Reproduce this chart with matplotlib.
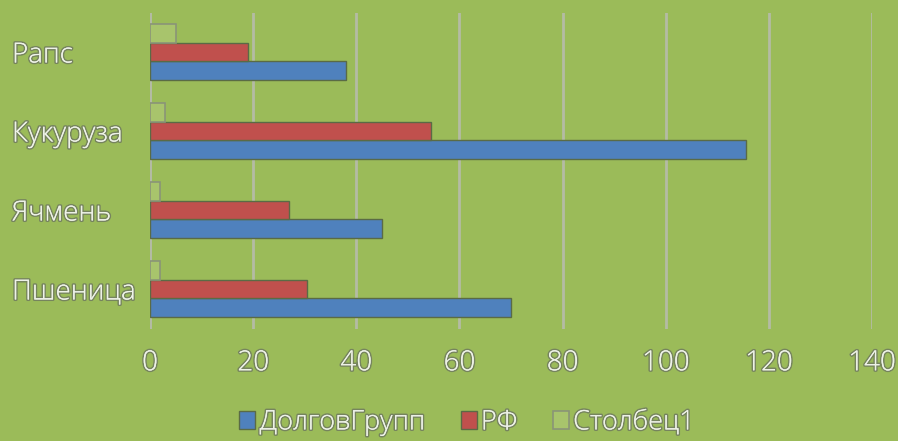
import numpy as np
import matplotlib.pyplot as plt
import matplotlib.patheffects as pe
import matplotlib.transforms as mtransforms

categories = ["Пшеница", "Ячмень", "Кукуруза", "Рапс"]
dolgov = [70, 45, 115.5, 38]
rf = [30.5, 27, 54.5, 19]
stolbec = [2, 2, 3, 5]
series_names = ["ДолговГрупп", "РФ", "Столбец1"]

bg = "#9BBB59"
txt = "#EEF2E8"
plt.rcParams["font.family"] = ["Open Sans", "DejaVu Sans"]
plt.rcParams["font.weight"] = "light"

fig = plt.figure(figsize=(8.98, 4.41), dpi=100, facecolor=bg)
ax = fig.add_axes([150 / 898, 1 - 328.5 / 441, 722 / 898, 316 / 441])
ax.set_facecolor(bg)

y = np.arange(len(categories))
h = 0.24
ax.barh(y - h, dolgov, h, color="#4F81BD", edgecolor="#5A6B45", linewidth=1, label=series_names[0], zorder=3)
ax.barh(y, rf, h, color="#C0504D", edgecolor="#5A6B45", linewidth=1, label=series_names[1], zorder=3)
ax.barh(y + h, stolbec, h, color="#A8C46C", edgecolor="#8A9478", linewidth=1.2, label=series_names[2], zorder=3)

ax.set_xlim(0, 140)
ax.set_ylim(-0.5, 3.5)
ax.set_xticks(range(0, 141, 20))
ax.set_yticks([])
ax.grid(axis="x", color="#B4BBA4", linewidth=2, zorder=0)
for s in ax.spines.values():
    s.set_visible(False)
ax.axvline(0, color="#B4BBA4", linewidth=2, zorder=1)
ax.tick_params(axis="x", length=0, labelsize=20, colors=txt, pad=15)

outline = [pe.withStroke(linewidth=2.2, foreground="#76845E"), pe.Normal()]
for t in ax.get_xticklabels():
    t.set_path_effects(outline)

trans = mtransforms.blended_transform_factory(fig.transFigure, ax.transData)
for i, name in enumerate(categories):
    ax.text(12 / 898, y[i], name, transform=trans, ha="left", va="center_baseline",
            fontsize=20, color=txt, path_effects=outline)

leg = fig.legend(loc="lower center", bbox_to_anchor=(0.52, -0.045), ncol=3, frameon=False,
                 fontsize=19.5, handlelength=0.6, handleheight=0.6, handletextpad=0.15,
                 columnspacing=1.3, labelcolor=txt)
for t in leg.get_texts():
    t.set_path_effects(outline)

fig.savefig("out.png", dpi=100, facecolor=bg)
